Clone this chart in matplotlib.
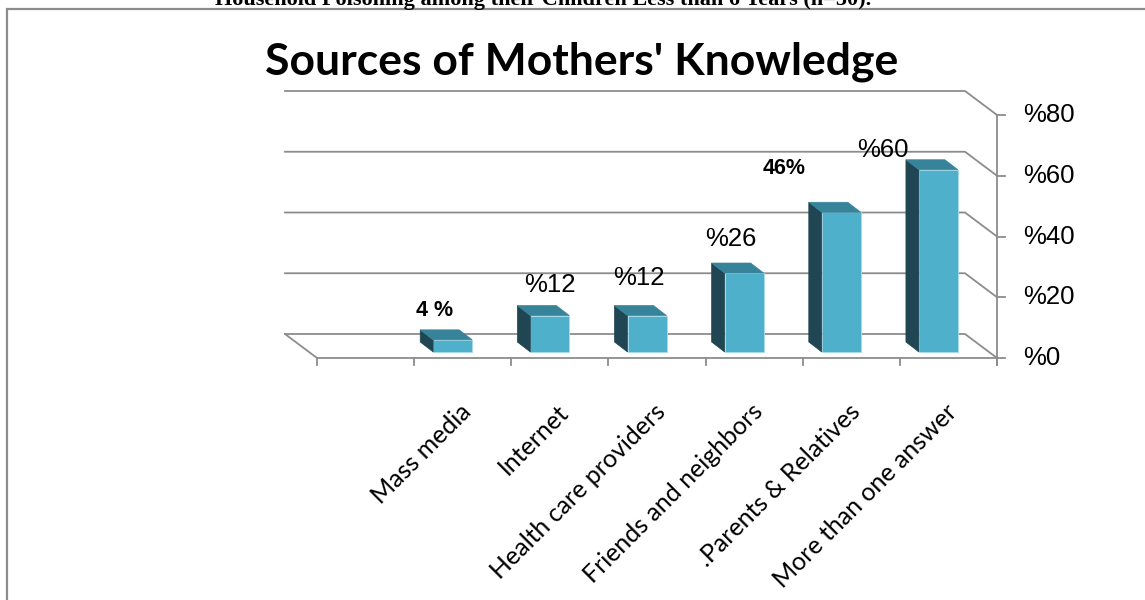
import numpy as np
import matplotlib
matplotlib.use("Agg")
import matplotlib.pyplot as plt
from matplotlib.patches import Polygon, Rectangle
from matplotlib.transforms import offset_copy

# datos del grafico
categorias = ["Mass media", "Internet", "Health care providers",
              "Friends and neighbors", ".Parents & Relatives", "More than one answer"]
valores = [4, 12, 12, 26, 46, 60]
etiquetas = ["4 %", "%12", "%12", "%26", "46%", "%60"]
etiquetas_negrita = [True, False, False, False, True, False]
ticks_y = [0, 20, 40, 60, 80]
ticks_y_texto = ["%0", "%20", "%40", "%60", "%80"]

# desplazamiento manual de cada etiqueta (pixeles), como en el original
etiq_dx = [-28, -10, -18, -23, -67, -66]
etiq_dy = [35, 37, 44, 40, 50, 26]

# geometria en pixeles
W, H = 1145, 600
X0 = 317                     # borde izquierdo del primer hueco
SLOT = (997 - 317) / 7       # ancho de cada hueco
Y0 = H - 358                 # 0% en el plano frontal
PCT = (358 - 115) / 80       # pixeles por punto porcentual
n_huecos = len(categorias) + 1

# profundidades pasadas a unidades de datos
fdx, fdy = -32 / SLOT, 24 / PCT      # pared del fondo
bdx, bdy = -10 / SLOT, 6 / PCT       # cara frontal de las barras
ddx, ddy = -13 / SLOT, 10 / PCT      # profundidad de cada barra

gris = "#8C8C8C"
c_frente = "#4FB0CC"
c_arriba = "#37849A"
c_lado = "#1F4652"

fig = plt.figure(figsize=(W / 100, H / 100), dpi=100)
ax = fig.add_axes([0, 0, 1, 1])
ax.set_axis_off()

# pared del fondo: lineas de cuadricula y diagonales hacia el eje derecho
for v in ticks_y:
    ax.plot([fdx, n_huecos + fdx, n_huecos], [v + fdy, v + fdy, v], color=gris, lw=1.3, zorder=1)
    ax.plot([n_huecos, n_huecos + 8 / SLOT], [v, v], color=gris, lw=1.3, zorder=1)

# piso
ax.plot([fdx, 0, n_huecos], [fdy, 0, 0], color=gris, lw=1.3, zorder=1)
ax.plot([n_huecos, n_huecos], [-7 / PCT, ticks_y[-1]], color=gris, lw=1.3, zorder=1)
for k in range(n_huecos + 1):
    ax.plot([k, k], [0, -7 / PCT], color=gris, lw=1.3, zorder=1)

# etiquetas del eje derecho
for v, t in zip(ticks_y, ticks_y_texto):
    ax.text(n_huecos + 26 / SLOT, v, t, ha="left", va="center",
            fontsize=18.5, family="Liberation Sans")

# barras 3D falsas
x = np.arange(len(categorias)) + 1.5 + bdx
ancho = 39 / SLOT
ax.bar(x, valores, width=ancho, bottom=bdy, color=c_frente, edgecolor="#A9DCEA",
       linewidth=0.6, zorder=3)
for xi, v in zip(x, valores):
    xl, xr = xi - ancho / 2, xi + ancho / 2
    top = v + bdy
    lado = Polygon([(xl, bdy), (xl, top), (xl + ddx, top + ddy), (xl + ddx, bdy + ddy)],
                   closed=True, facecolor=c_lado, edgecolor=c_lado, lw=0.5, zorder=3)
    arriba = Polygon([(xl, top), (xr, top), (xr + ddx, top + ddy), (xl + ddx, top + ddy)],
                     closed=True, facecolor=c_arriba, edgecolor=c_arriba, lw=0.5, zorder=3)
    ax.add_patch(lado)
    ax.add_patch(arriba)

# etiquetas de datos
for xi, v, t, b, dx, dy in zip(x - bdx, valores, etiquetas, etiquetas_negrita, etiq_dx, etiq_dy):
    ax.text(xi, v, t, transform=offset_copy(ax.transData, fig=fig, x=dx, y=dy, units="dots"),
            ha="center", va="center", family="Liberation Sans",
            fontsize=15.5 if b else 18.5, fontweight="bold" if b else "normal", zorder=4)

# etiquetas de categorias
for xi, c in zip(x - bdx, categorias):
    ax.text(xi, 0, c, transform=offset_copy(ax.transData, fig=fig, x=-3, y=-42, units="dots"),
            rotation=45, rotation_mode="anchor", ha="right", va="top",
            fontsize=18, family="Lato")

ax.set_xlim(-X0 / SLOT, (W - X0) / SLOT)
ax.set_ylim(-Y0 / PCT, (H - Y0) / PCT)

# titulo y texto cortado arriba
fig.text(582 / W, 1 - 74 / H, "Sources of Mothers' Knowledge", ha="center", va="baseline",
         fontsize=32, fontweight="bold", family="Lato")
fig.text(543 / W, 1 - 5 / H, "Household Poisoning among their Children Less than 6 Years (n=50).",
         ha="center", va="baseline", fontsize=16, fontweight="bold", family="Liberation Serif")

# marco del grafico
fig.add_artist(Rectangle((7 / W, -0.1), 1.2, 1.1 - 8.5 / H, transform=fig.transFigure,
                         fill=False, edgecolor=gris, lw=1.6))

fig.savefig("out.png", dpi=100)
